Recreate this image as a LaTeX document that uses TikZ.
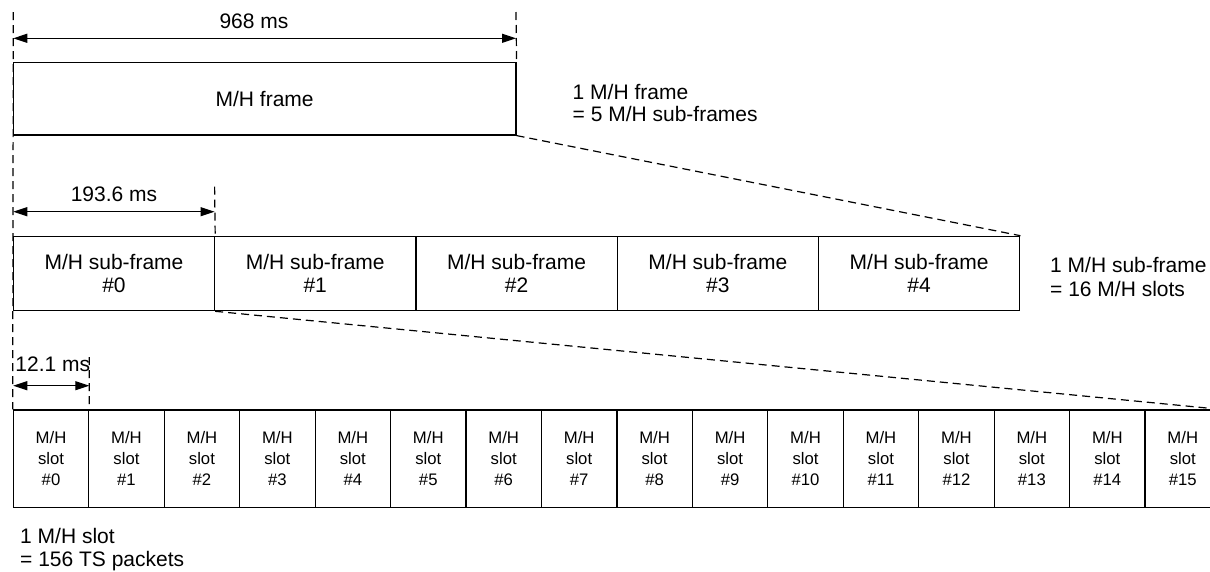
\documentclass[tikz,border=0pt]{standalone}
\usepackage{fontspec}
\setmainfont{Liberation Sans}
\usetikzlibrary{arrows.meta}
\begin{document}
\begin{tikzpicture}[x=1pt,y=-1pt,
  box/.style={draw, line width=1.2pt, inner sep=0pt, align=center},
  framebox/.style={box, minimum width=502.7pt, minimum height=72.3pt,
    font=\fontsize{21}{23}\selectfont},
  subbox/.style={box, minimum width=201.3pt, minimum height=74.4pt,
    font=\fontsize{21}{22.6}\selectfont},
  slotbox/.style={box, minimum width=75.45pt, minimum height=97.3pt,
    font=\fontsize{16.7}{20.8}\selectfont},
  guide/.style={line width=1.2pt, dash pattern=on 8pt off 5pt},
  dim/.style={line width=1.2pt,
    {Triangle[length=14pt,width=9pt]}-{Triangle[length=14pt,width=9pt]}},
  lbl/.style={inner sep=0pt, font=\fontsize{21}{22.7}\selectfont},
]
\clip (0,0) rectangle (1210,571);

% frame
\node[framebox] (frame) at (264.65,98.85) {M/H frame};

% sub-frames
\foreach \i in {0,...,4}
  \node[subbox] (sf\i) at ({13.3+201.3*(\i+0.5)},273.5) {M/H sub-frame\\\#\i};

% slots
\foreach \i in {0,...,15}
  \node[slotbox] (slot\i) at ({13.3+75.45*(\i+0.5)},458.65) {M/H\\slot\\\#\i};

% extension guides
\coordinate (g0) at (13.3,12);
\coordinate (g1) at (516,12);
\coordinate (g2) at (214.6,186.7);
\coordinate (g3) at (89.3,357);
\draw[guide] (g0) -- (slot0.north west);
\draw[guide] (g1) -- (frame.north east);
\draw[guide] (g2) -- (sf0.north east);
\draw[guide] (g3) -- (slot0.north east);

% zoom-out lines
\draw[guide] (frame.south east) -- (sf4.north east);
\draw[guide] (sf0.south east) -- (slot15.north east);

% dimension arrows
\coordinate (d1l) at (13.3,38.3);
\coordinate (d1r) at (516,38.3);
\coordinate (d2l) at (13.3,211.7);
\coordinate (d2r) at (214.6,211.7);
\coordinate (d3l) at (13.3,385.7);
\coordinate (d3r) at (89.3,385.7);
\draw[dim] (d1l) -- (d1r);
\draw[dim] (d2l) -- (d2r);
\draw[dim] (d3l) -- (d3r);

\node[lbl, anchor=base] (t1) at (254,28.3) {968 ms};
\node[lbl, anchor=base] (t2) at (114,201.7) {193.6 ms};
\node[lbl, anchor=base] (t3) at (52.8,371.7) {12.1 ms};

% notes
\node[lbl, anchor=base west] (n1a) at (572.5,99) {1 M/H frame};
\node[lbl, anchor=base west] (n1b) at (572.5,121.7) {= 5 M/H sub-frames};
\node[lbl, anchor=base west] (n2a) at (1050,272.3) {1 M/H sub-frame};
\node[lbl, anchor=base west] (n2b) at (1050,296.7) {= 16 M/H slots};
\node[lbl, anchor=base west] (n3a) at (20,543.3) {1 M/H slot};
\node[lbl, anchor=base west] (n3b) at (20,566.7) {= 156 TS packets};
\end{tikzpicture}
\end{document}
